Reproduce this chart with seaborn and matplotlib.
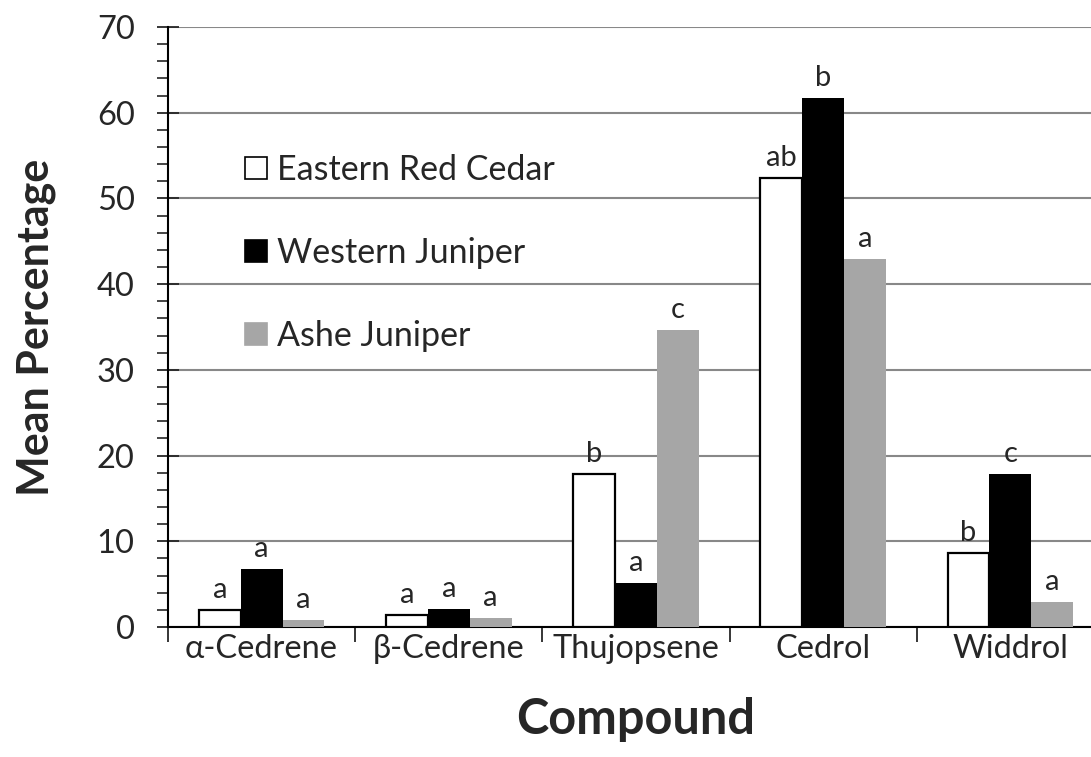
import numpy as np
import pandas as pd
import matplotlib
matplotlib.use("Agg")
import matplotlib.pyplot as plt
import seaborn as sns
from matplotlib.ticker import MultipleLocator, FixedLocator

# ── Data ─────────────────────────────────────────────────────────────────────
compounds = ["α-Cedrene", "β-Cedrene", "Thujopsene", "Cedrol", "Widdrol"]
species = ["Eastern Red Cedar", "Western Juniper", "Ashe Juniper"]
eastern_red_cedar = [2.0, 1.45, 17.8, 52.4, 8.6]
western_juniper = [6.8, 2.15, 5.1, 61.7, 17.9]
ashe_juniper = [0.8, 1.1, 34.7, 42.9, 2.9]
letters_erc = ["a", "a", "b", "ab", "b"]
letters_wj = ["a", "a", "a", "b", "c"]
letters_aj = ["a", "a", "c", "a", "a"]

COLORS = ["#FFFFFF", "#000000", "#A6A6A6"]

df = pd.DataFrame({
    "Compound": compounds * 3,
    "Species": np.repeat(species, len(compounds)),
    "Value": eastern_red_cedar + western_juniper + ashe_juniper,
})
letters = [letters_erc, letters_wj, letters_aj]

sns.set_style("white")
plt.rcParams["font.family"] = ["Lato", "DejaVu Sans"]

fig = plt.figure(figsize=(10.91, 7.57), dpi=100)
ax = fig.add_axes([168 / 1091, 1 - 627 / 757, 936 / 1091, 600 / 757])

sns.barplot(data=df, x="Compound", y="Value", hue="Species", order=compounds,
            hue_order=species, palette=COLORS, width=0.67, linewidth=0,
            saturation=1, legend=False, ax=ax, zorder=3)

# white bars get a black outline
for p in ax.containers[0].patches:
    p.set_edgecolor("black"); p.set_linewidth(1.6)

# significance letters above each bar
for cont, labs in zip(ax.containers, letters):
    for p, lab in zip(cont.patches, labs):
        ax.annotate(lab, (p.get_x() + p.get_width() / 2, p.get_height()),
                    xytext=(0, 5), textcoords="offset points",
                    ha="center", va="bottom", fontsize=21)

# axes / grid
ax.set_xlim(-0.5, 4.5)
ax.set_ylim(0, 70)
ax.yaxis.set_major_locator(MultipleLocator(10))
ax.yaxis.set_minor_locator(MultipleLocator(2))
ax.grid(axis="y", color="#888888", linewidth=1.5, zorder=0)
ax.set_axisbelow(True)
for s in ["top", "right"]:
    ax.spines[s].set_visible(False)
for s in ["left", "bottom"]:
    ax.spines[s].set_color("black"); ax.spines[s].set_linewidth(1.5)

ax.tick_params(axis="y", which="major", direction="inout", length=16, width=1.3,
               labelsize=23.5, pad=16, left=True)
ax.tick_params(axis="y", which="minor", direction="out", length=8, width=1.2, left=True)
ax.xaxis.set_minor_locator(FixedLocator(np.arange(-0.5, 5, 1)))
ax.tick_params(axis="x", which="major", length=0, labelsize=23.5, pad=5)
ax.tick_params(axis="x", which="minor", direction="out", length=11, width=1.3, bottom=True)

ax.set_xlabel("Compound", fontsize=35, fontweight="bold", labelpad=24)
ax.set_ylabel("Mean Percentage", fontsize=31, fontweight="bold")
ax.yaxis.set_label_coords(-0.12, 0.5)

handles = [plt.Rectangle((0, 0), 1, 1, facecolor=c, edgecolor="black" if c == "#FFFFFF" else c,
                         linewidth=1.2) for c in COLORS]
ax.legend(handles, species, frameon=False, fontsize=24.5, loc="upper left",
          bbox_to_anchor=(0.05, 0.84), labelspacing=1.5, handlelength=0.62,
          handleheight=0.62, handletextpad=0.32)

fig.savefig("out.png", dpi=100)
